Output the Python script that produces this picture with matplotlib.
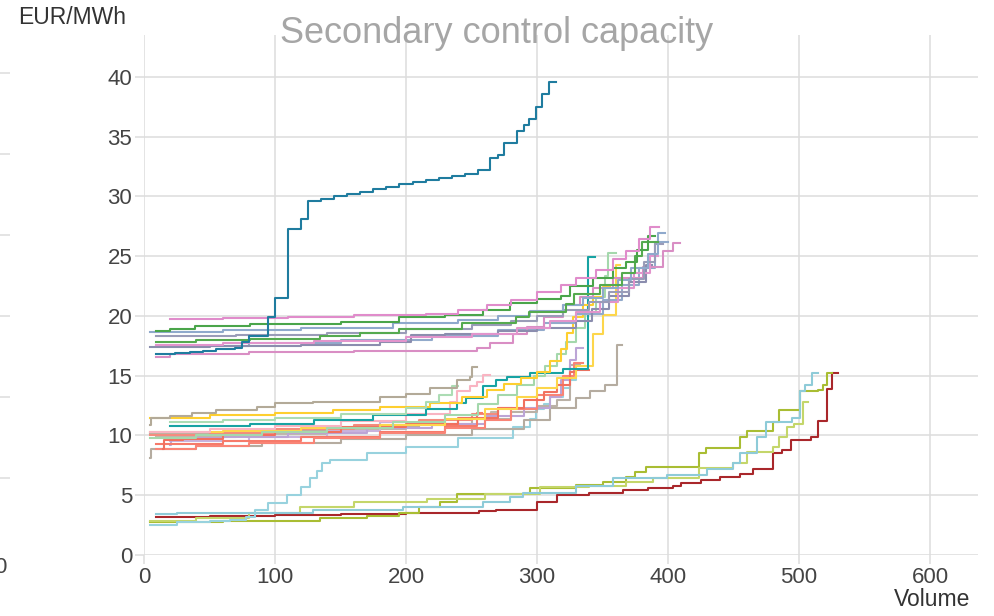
import matplotlib

matplotlib.use("Agg")
import matplotlib.pyplot as plt

# ---- data (volume breakpoints and price steps) ----
# every series: x = step start points (last one = line end), y = price

top_teal_x = [9, 24, 35, 45, 55, 69.5, 75, 80, 94.4, 100, 109.7, 120, 125, 135, 145, 155, 165, 175, 185, 195, 205, 215, 225, 235, 245, 255, 264, 270, 275, 284.5, 290, 294, 299, 304, 309, 314.5]
top_teal_y = [16.8, 16.9, 17.0, 17.1, 17.2, 17.3, 17.85, 18.35, 19.9, 21.5, 27.3, 28.1, 29.6, 29.8, 30.0, 30.2, 30.4, 30.6, 30.8, 31.0, 31.2, 31.35, 31.5, 31.7, 31.9, 32.2, 33.2, 33.5, 34.5, 35.5, 36.0, 36.5, 37.5, 38.6, 39.6, 39.6]

pink_top_x = [20, 60, 110, 160, 215, 240, 262, 280, 300, 318, 330, 345, 358, 368, 378, 386, 393]
pink_top_y = [19.75, 19.85, 19.95, 20.05, 20.2, 20.5, 20.9, 21.3, 22.0, 22.6, 23.2, 23.8, 24.8, 25.4, 26.4, 27.4, 27.4]

green_top_x = [9, 20, 39, 81, 150, 195, 230, 259, 279, 300, 318, 325, 343, 358, 368, 376, 385, 390]
green_top_y = [18.75, 18.9, 19.15, 19.3, 19.5, 19.9, 20.1, 20.5, 21.1, 21.4, 21.7, 22.5, 23.2, 24.0, 24.5, 25.5, 26.7, 26.7]

green_low_x = [9, 40, 81, 134, 165, 195, 243, 284, 294, 322, 328, 348, 365, 375, 380, 392]
green_low_y = [17.85, 17.95, 18.05, 18.3, 18.55, 18.9, 19.4, 19.9, 20.3, 21.0, 21.8, 22.6, 23.6, 25.0, 26.2, 26.2]

blue_top_x = [4.6, 60, 120, 190, 240, 270, 295, 320, 335, 350, 362, 372, 385, 392, 398]
blue_top_y = [18.65, 18.8, 19.0, 19.4, 19.7, 20.0, 20.4, 20.9, 21.5, 22.3, 23.0, 24.0, 25.2, 26.9, 26.9]

slate_top_x = [9, 70, 140, 200, 250, 280, 300, 320, 340, 355, 370, 382, 390, 396]
slate_top_y = [18.3, 18.4, 18.6, 18.9, 19.2, 19.6, 20.0, 20.5, 21.2, 22.0, 23.1, 24.5, 26.0, 26.0]

pink_mid_x = [9, 60, 130, 200, 250, 285, 310, 330, 348, 362, 374, 386, 392]
pink_mid_y = [17.6, 17.7, 17.9, 18.2, 18.5, 19.0, 19.6, 20.3, 21.2, 22.3, 23.6, 25.0, 25.0]

slate_low_x = [4.6, 50, 120, 180, 204, 230, 270, 300, 330, 342, 355, 370, 383, 388]
slate_low_y = [17.4, 17.5, 17.6, 17.8, 18.4, 18.5, 18.7, 19.0, 19.6, 20.6, 21.7, 22.8, 24.3, 24.3]

pink_low_x = [9, 20, 80, 160, 254, 264, 282, 292, 305, 320, 333, 343, 358, 381, 396, 404, 409]
pink_low_y = [16.6, 16.8, 16.95, 17.05, 17.3, 17.7, 18.5, 19.1, 19.9, 20.9, 21.6, 22.3, 23.15, 24.1, 25.4, 26.1, 26.1]

blue_low_x = [9, 80, 150, 220, 270, 305, 330, 350, 365, 378, 390, 400]
blue_low_y = [17.5, 17.7, 18.0, 18.3, 18.8, 19.4, 20.2, 21.3, 22.6, 24.0, 26.2, 26.2]

tan_top_x = [4.6, 5.5, 20, 37, 55, 86, 100, 129, 180, 200, 218, 239, 249, 250, 254]
tan_top_y = [10.9, 11.45, 11.6, 11.9, 12.1, 12.4, 12.7, 12.8, 13.25, 13.5, 13.95, 14.65, 14.9, 15.75, 15.75]

mint_short_x = [20, 60, 100, 150, 200, 215, 225, 235, 240]
mint_short_y = [11.15, 11.3, 11.5, 11.8, 12.3, 12.8, 13.4, 14.1, 14.1]

yellow_a_x = [4.6, 50, 100, 144, 180, 218, 243, 262, 275, 288, 300, 310, 318, 322.6, 327.7, 335, 343, 350, 356]
yellow_a_y = [11.5, 11.7, 11.9, 12.1, 12.4, 12.7, 13.2, 13.8, 14.3, 14.8, 15.3, 16.2, 17.2, 18.6, 19.9, 20.9, 21.6, 22.4, 22.4]

mint_tall_x = [4.6, 40, 90, 140, 190, 230, 255, 270, 285, 298, 306, 315, 322, 330, 337, 345, 352, 354, 360]
mint_tall_y = [9.8, 10.0, 10.3, 10.6, 11.1, 11.7, 12.6, 13.4, 14.2, 15.0, 15.8, 16.8, 17.8, 19.0, 20.2, 21.6, 23.3, 25.3, 25.3]

teal_x = [20, 81, 130, 175, 215, 238.6, 246, 259, 269, 277, 294.5, 320, 339, 344]
teal_y = [10.75, 11.0, 11.3, 11.7, 12.2, 12.7, 13.1, 14.1, 14.6, 14.9, 15.2, 15.6, 24.9, 24.9]

rose_x = [4.6, 50, 100, 150, 200, 233.6, 238.6, 249, 254, 259, 264]
rose_y = [10.3, 10.5, 10.8, 11.2, 11.8, 12.8, 13.7, 14.1, 14.5, 15.06, 15.06]

yellow_b_x = [4.6, 60, 120, 180, 230, 260, 285, 300, 315, 330, 343, 350, 360, 363]
yellow_b_y = [10.25, 10.4, 10.6, 10.9, 11.4, 12.2, 13.2, 14.0, 14.8, 15.8, 18.5, 20.1, 24.3, 24.3]

salmon_a_x = [14.5, 15, 30, 60, 100, 150, 200, 240, 270, 290, 305, 315, 325, 330, 340]
salmon_a_y = [8.9, 9.6, 9.7, 10.0, 10.3, 10.7, 11.0, 11.5, 12.3, 13.0, 13.6, 14.2, 15.3, 15.5, 15.5]

salmon_b_x = [9, 40, 80, 130, 180, 230, 260, 280, 300, 320, 328, 335]
salmon_b_y = [8.9, 9.1, 9.4, 9.8, 10.2, 10.6, 11.3, 12.2, 13.4, 15.0, 16.1, 16.1]

salmon_c_x = [9, 60, 120, 180, 230, 254, 258]
salmon_c_y = [9.3, 9.5, 9.9, 10.3, 10.8, 11.9, 11.9]

salmon_d_x = [4.6, 50, 100, 160, 210, 250, 270, 280]
salmon_d_y = [10.0, 10.2, 10.5, 10.9, 11.3, 11.8, 12.3, 12.3]

lilac_a_x = [20, 20.5, 60, 110, 170, 220, 260, 290, 310, 318, 325, 330, 335]
lilac_a_y = [9.2, 9.8, 9.9, 10.2, 10.6, 11.0, 11.6, 12.3, 13.2, 14.6, 16.3, 17.3, 17.3]

lilac_b_x = [20, 80, 140, 180, 200]
lilac_b_y = [9.5, 9.9, 10.4, 11.15, 11.15]

tan_low_x = [4.6, 5.5, 40, 90, 150, 200, 250, 290, 310, 330, 340.5, 352, 361, 365]
tan_low_y = [8.1, 8.9, 9.1, 9.4, 9.7, 10.0, 10.5, 11.3, 12.3, 13.1, 13.7, 14.2, 17.6, 17.6]

tan_mid_x = [4.6, 50, 100, 160, 210, 250, 280, 300, 315, 325, 333]
tan_mid_y = [10.1, 10.2, 10.4, 10.7, 11.0, 11.4, 12.0, 12.5, 13.0, 15.9, 15.9]

tan_short_x = [9, 70, 140, 200, 240, 265, 270]
tan_short_y = [9.9, 10.1, 10.5, 10.9, 11.4, 12.0, 12.0]

red_x = [9, 50, 100, 150, 200, 256, 269, 300, 315, 340, 366, 385, 404, 410, 425, 440, 455, 465, 480, 487, 494, 509, 514.5, 521, 525, 529.7]
red_y = [3.15, 3.25, 3.35, 3.45, 3.55, 3.65, 3.8, 4.45, 5.0, 5.15, 5.4, 5.6, 5.8, 6.05, 6.3, 6.5, 6.8, 7.2, 8.55, 8.8, 9.6, 9.85, 11.2, 13.9, 15.2, 15.2]

olive_x = [4.6, 60, 134, 170, 195, 210, 226, 238.6, 294.5, 330, 350, 368, 374.6, 383.5, 424, 429, 455, 460, 480, 485, 500.5, 514.5, 518.5, 521, 525]
olive_y = [2.74, 2.85, 3.07, 3.3, 3.54, 4.0, 4.46, 5.1, 5.58, 5.86, 6.13, 6.55, 6.97, 7.4, 8.5, 8.98, 9.9, 10.4, 11.15, 12.1, 13.7, 13.8, 14.2, 15.2, 15.2]

lime_x = [4.6, 40, 80, 119, 160, 216, 260, 302, 340, 368, 388.6, 424, 449.6, 460, 480, 485, 490.5, 496, 503, 507]
lime_y = [2.87, 3.1, 3.5, 4.0, 4.46, 4.66, 5.1, 5.66, 5.8, 6.13, 6.4, 7.25, 7.67, 8.64, 9.06, 9.9, 10.74, 11.0, 12.8, 12.8]

sky_x = [9, 25, 129, 198, 259, 279, 289, 330, 358, 399, 430, 449.6, 455, 467.6, 475, 495, 500.5, 504.5, 509.6, 514.5]
sky_y = [3.45, 3.54, 3.77, 4.04, 4.46, 4.88, 5.16, 5.8, 6.4, 6.7, 7.2, 7.7, 8.5, 9.9, 11.15, 11.45, 13.7, 14.2, 15.2, 15.2]

sky_jump_x = [4.6, 25, 50, 65.6, 78, 85, 95, 109, 120, 127, 132, 135.5, 142, 170, 200, 240, 282, 294.5, 299.5, 305, 310, 320, 325, 330]
sky_jump_y = [2.55, 2.74, 2.85, 2.95, 3.2, 3.77, 4.35, 5.0, 5.7, 6.4, 7.0, 7.7, 7.95, 8.5, 9.0, 9.8, 10.7, 11.4, 12.2, 12.6, 13.2, 13.95, 14.6, 14.8]

x_ticks = [0, 100, 200, 300, 400, 500, 600]
y_ticks = [0, 5, 10, 15, 20, 25, 30, 35, 40]


def main():
    plt.rcParams["font.family"] = ["Liberation Sans", "DejaVu Sans"]

    series = [
        (red_x, red_y, "#a9272b"),
        (olive_x, olive_y, "#a9bd33"),
        (lime_x, lime_y, "#c4d66a"),
        (sky_x, sky_y, "#8ecbd8"),
        (sky_jump_x, sky_jump_y, "#98d2de"),
        (tan_low_x, tan_low_y, "#b5aca0"),
        (tan_mid_x, tan_mid_y, "#bab1a6"),
        (tan_short_x, tan_short_y, "#c0b8ad"),
        (lilac_b_x, lilac_b_y, "#c8b3de"),
        (lilac_a_x, lilac_a_y, "#bca5d6"),
        (salmon_d_x, salmon_d_y, "#f48c7e"),
        (salmon_c_x, salmon_c_y, "#f67a6a"),
        (salmon_b_x, salmon_b_y, "#f98476"),
        (salmon_a_x, salmon_a_y, "#f1705f"),
        (yellow_b_x, yellow_b_y, "#fdd64b"),
        (rose_x, rose_y, "#f9b4c2"),
        (teal_x, teal_y, "#17a3a3"),
        (mint_tall_x, mint_tall_y, "#a4d8ac"),
        (yellow_a_x, yellow_a_y, "#fecf2f"),
        (mint_short_x, mint_short_y, "#acdcb4"),
        (tan_top_x, tan_top_y, "#b3aa98"),
        (blue_low_x, blue_low_y, "#92aacb"),
        (pink_low_x, pink_low_y, "#d98ec4"),
        (slate_low_x, slate_low_y, "#8b8dae"),
        (pink_mid_x, pink_mid_y, "#e294cc"),
        (slate_top_x, slate_top_y, "#9a9cb8"),
        (blue_top_x, blue_top_y, "#8fa9cc"),
        (green_low_x, green_low_y, "#55aa4f"),
        (green_top_x, green_top_y, "#4aa54a"),
        (pink_top_x, pink_top_y, "#e08ccb"),
        (top_teal_x, top_teal_y, "#1f7c9f"),
    ]

    fig = plt.figure(figsize=(9.94, 6.16), dpi=100)

    # cut-off neighbour panel on the far left
    ghost = fig.add_axes([-0.5, 57 / 616, 0.51, 524 / 616])
    ghost.set_ylim(0, 524 / 81)
    ghost.set_xlim(0, 1)
    ghost.set_yticks([1, 2, 3, 4, 5, 6])
    ghost.grid(True, axis="y", color="#dddddd", linewidth=1.1)
    ghost.tick_params(left=False, bottom=False, labelleft=False, labelbottom=False)
    for spine in ghost.spines.values():
        spine.set_visible(False)
    fig.text(0.0, 0.078, "0", ha="center", va="center", fontsize=16, color="#444444")

    ax = fig.add_axes([144 / 994, 61 / 616, 834 / 994, 520 / 616])

    for xs, ys, color in series:
        ax.plot(xs, ys, drawstyle="steps-post", color=color, linewidth=1.5)

    ax.set_xlim(0, 636.6)
    ax.set_ylim(0, 43.5)
    ax.set_xticks(x_ticks)
    ax.set_yticks(y_ticks)
    ax.grid(True, color="#dddddd", linewidth=1.1)
    ax.set_axisbelow(True)
    for spine in ax.spines.values():
        spine.set_visible(False)

    ax.tick_params(
        axis="both",
        length=6.5,
        width=1.1,
        color="#dddddd",
        labelsize=16,
        labelcolor="#444444",
        pad=2,
    )

    fig.text(0.5, 0.946, "Secondary control capacity", ha="center", va="center",
             fontsize=26, color="#a6a6a6")
    fig.text(0.018, 0.971, "EUR/MWh", ha="left", va="center", fontsize=16.5,
             color="#333333")
    fig.text(0.976, 0.026, "Volume", ha="right", va="center", fontsize=16.5,
             color="#333333")

    fig.savefig("out.png", dpi=100)
    plt.close(fig)


if __name__ == "__main__":
    main()
